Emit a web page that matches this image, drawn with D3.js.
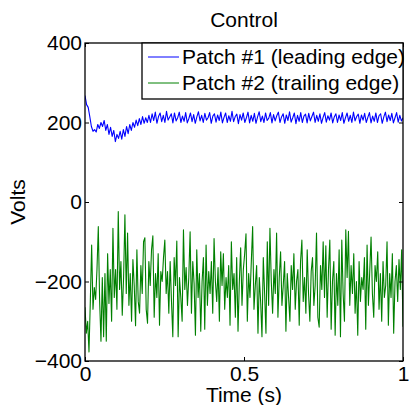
<!DOCTYPE html>
<html>
<head>
<meta charset="utf-8">
<script src="https://cdn.jsdelivr.net/npm/d3@7"></script>
<style>
  html, body { margin: 0; padding: 0; background: #fff; }
  svg { display: block; font-family: "Liberation Sans", Arial, Helvetica, sans-serif; }
</style>
</head>
<body>
<svg id="chart" width="409" height="405"></svg>
<script>
// ---------------- data ----------------
const title = "Control";
const xLabel = "Time (s)";
const yLabel = "Volts";
const seriesNames = ["Patch #1 (leading edge)", "Patch #2 (trailing edge)"];
const seriesColors = ["#0000ff", "#008000"];
const xTicks = [0, 0.5, 1];
const xTickLabels = ["0", "0.5", "1"];
const yTicks = [-400, -200, 0, 200, 400];
const xDomain = [0, 1];
const yDomain = [-400, 400];

// Patch #1 (leading edge), evenly sampled over 0..1 s
const patch1 = [
  268, 245, 238, 215, 190, 178, 182, 176, 195, 185, 200,
  190, 205, 180, 195, 170, 188, 165, 180, 152, 170,
  160, 178, 158, 182, 165, 190, 172, 195, 180, 200, 188, 206, 192, 210, 195, 215, 198, 212, 200, 218,
  200, 222, 205, 226, 198, 215, 224, 202, 218, 200, 228, 206, 214, 222, 199, 224, 204, 212, 226, 200,
  216, 203, 225, 199, 210, 224, 202, 220, 198, 214, 227, 204, 218, 200, 223, 206, 212, 225, 198, 216,
  222, 201, 219, 205, 226, 199, 213, 224, 200, 217, 203, 228, 202, 215, 221, 197, 220, 206, 224, 200,
  212, 226, 199, 218, 203, 223, 198, 214, 227, 202, 216, 200, 224, 205, 211, 225, 199, 220, 204, 217,
  226, 200, 214, 222, 198, 219, 205, 227, 201, 212, 224, 197, 218, 203, 225, 200, 216, 221, 199, 223,
  204, 215, 226, 200, 218, 203, 222, 198, 213, 225, 201, 217, 206, 224, 199, 214, 222, 200, 219, 205,
  225, 198, 212, 224, 203, 218, 200, 226, 204, 215, 221, 198, 219, 206, 223, 200, 213, 225, 199, 216,
  203, 224, 200, 217, 222, 198, 214, 226, 202, 219, 205, 223, 199, 212, 225, 201, 218, 204, 212
];

// Patch #2 (trailing edge), evenly sampled over 0..1 s
const patch2 = [
  -265,-330,-300,-377,-250,-108,-270,-215,-245,-170,-62,-250,-350,-190,-339,-180,-350,-130,-255,-170,
  -300,-66,-240,-170,-270,-24,-220,-150,-285,-190,-32,-230,-78,-260,-180,-300,-145,-210,-311,-120,
  -250,-280,-160,-230,-100,-90,-270,-305,-150,-210,-120,-85,-290,-180,-240,-130,-310,-175,-200,-140,
  -96,-230,-175,-280,-150,-250,-339,-140,-210,-98,-339,-190,-240,-300,-70,-220,-165,-260,-190,-75,
  -280,-150,-205,-335,-120,-240,-180,-325,-200,-140,-320,-108,-260,-175,-230,-150,-280,-92,-200,-250,
  -165,-300,-125,-210,-130,-270,-190,-240,-160,-310,-100,-220,-180,-290,-140,-325,-200,-115,-260,-170,
  -130,-80,-300,-180,-240,-150,-62,-270,-210,-160,-330,-190,-250,-339,-140,-230,-330,-100,-260,-66,
  -200,-280,-170,-230,-78,-290,-190,-125,-260,-210,-150,-325,-180,-240,-300,-160,-220,-130,-270,-200,
  -170,-310,-150,-96,-250,-190,-280,-120,-230,-300,-175,-140,-260,-210,-78,-290,-315,-160,-220,-100,
  -240,-110,-290,-170,-96,-320,-200,-150,-335,-180,-260,-120,-339,-96,-230,-300,-70,-190,-74,-260,
  -160,-230,-130,-280,-200,-335,-150,-250,-190,-220,-140,-320,-108,-260,-175,-88,-230,-290,-160,-200,
  -125,-270,-180,-300,-150,-240,-210,-100,-310,-180,-240,-130,-330,-200,-160,-250,-145,-220,-120,-314
];

// ---------------- chart ----------------
const svg = d3.select("#chart");
const mLeft = 85, mRight = 403, mTop = 43, mBottom = 361;
const FONT = 21;

const x = d3.scaleLinear().domain(xDomain).range([mLeft, mRight]);
const y = d3.scaleLinear().domain(yDomain).range([mBottom, mTop]);

function timeOf(arr) { return (i) => xDomain[0] + (xDomain[1] - xDomain[0]) * i / (arr.length - 1); }

const makeLine = (arr) => {
  const t = timeOf(arr);
  return d3.line().x((d, i) => x(t(i))).y(d => y(d))(arr);
};

svg.append("defs").append("clipPath").attr("id", "clip")
  .append("rect").attr("x", mLeft).attr("y", mTop).attr("width", mRight - mLeft).attr("height", mBottom - mTop);

const g = svg.append("g").attr("clip-path", "url(#clip)");
[patch1, patch2].forEach((arr, k) => {
  g.append("path").attr("d", makeLine(arr))
    .attr("fill", "none").attr("stroke", seriesColors[k])
    .attr("stroke-width", 1.1).attr("stroke-linejoin", "round");
});

// axes
const tickLen = 4;
const ax = svg.append("g").attr("transform", `translate(0,${mBottom})`)
  .call(d3.axisBottom(x).tickValues(xTicks).tickFormat((d, i) => xTickLabels[i]).tickSize(-tickLen).tickSizeOuter(0).tickPadding(5));
const ay = svg.append("g").attr("transform", `translate(${mLeft},0)`)
  .call(d3.axisLeft(y).tickValues(yTicks).tickSize(-tickLen).tickSizeOuter(0).tickPadding(3));
const axT = svg.append("g").attr("transform", `translate(0,${mTop})`)
  .call(d3.axisTop(x).tickValues(xTicks).tickFormat("").tickSize(-tickLen).tickSizeOuter(0));
const ayR = svg.append("g").attr("transform", `translate(${mRight},0)`)
  .call(d3.axisRight(y).tickValues(yTicks).tickFormat("").tickSize(-tickLen).tickSizeOuter(0));

[ax, ay, axT, ayR].forEach(a => {
  a.select(".domain").remove();
  a.selectAll("line").attr("stroke", "#000");
  a.selectAll("text").attr("fill", "#000").style("font-size", FONT + "px")
    .style("font-family", '"Liberation Sans", Arial, sans-serif');
});

svg.append("rect").attr("x", mLeft).attr("y", mTop).attr("width", mRight - mLeft).attr("height", mBottom - mTop)
  .attr("fill", "none").attr("stroke", "#000").attr("stroke-width", 1.3);

// legend
const lg = svg.append("g");
lg.append("rect").attr("x", 142).attr("y", mTop).attr("width", mRight - 142).attr("height", 56)
  .attr("fill", "#fff").attr("stroke", "#000").attr("stroke-width", 1.3);
seriesNames.forEach((name, k) => {
  const yy = 57 + k * 26;
  lg.append("line").attr("x1", 148).attr("x2", 179).attr("y1", yy).attr("y2", yy)
    .attr("stroke", seriesColors[k]).attr("stroke-width", 1);
  lg.append("text").attr("x", 182).attr("y", yy).attr("dy", "0.35em")
    .style("font-size", FONT + "px").attr("fill", "#000").text(name);
});

// labels
svg.append("text").attr("x", (mLeft + mRight) / 2).attr("y", 27).attr("text-anchor", "middle")
  .style("font-size", FONT + "px").text(title);
svg.append("text").attr("x", (mLeft + mRight) / 2).attr("y", 402).attr("text-anchor", "middle")
  .style("font-size", FONT + "px").text(xLabel);
svg.append("text").attr("transform", `translate(25,${(mTop + mBottom) / 2}) rotate(-90)`)
  .attr("text-anchor", "middle").style("font-size", FONT + "px").text(yLabel);
</script>
</body>
</html>
